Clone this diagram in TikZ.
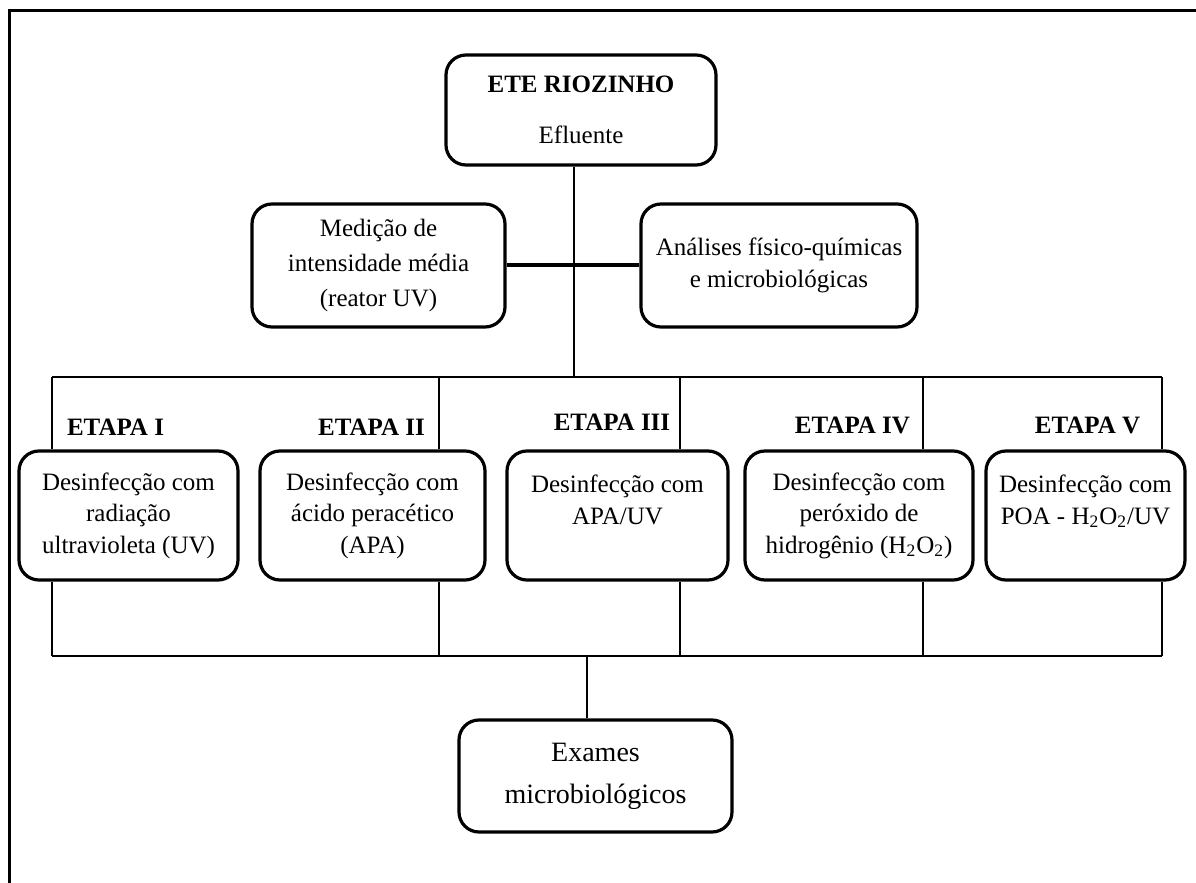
\documentclass[tikz,border=0pt]{standalone}
\usepackage{fontspec}
\setmainfont{Liberation Serif}
\usepackage{tikz}
\usetikzlibrary{positioning,calc}

\begin{document}
\begin{tikzpicture}[x=0.5pt,y=-0.5pt,font=\fontsize{12.5}{15.75}\selectfont,
  box/.style={draw,line width=1.6pt,rounded corners=10pt,align=center,inner sep=2pt},
  link/.style={line width=1.4pt}]
  \useasboundingbox (0,0) rectangle (1196,883);
  % Frame
  \draw[line width=1.5pt] (1196,11) -- (9,11) -- (9,883);
  % Top part
  \node[box,minimum width=135pt,minimum height=55pt] (ete) at (581,110) {\textbf{ETE RIOZINHO}\\[10pt]Efluente};
  \node[box,minimum width=126.5pt,minimum height=61.5pt] (med) at (378.5,265.5) {Medição de\\[1.75pt]intensidade média\\[1.75pt](reator UV)};
  \node[box,minimum width=138pt,minimum height=61.5pt] (ana) at (779,265.5) {Análises físico-químicas\\e microbiológicas};
  \coordinate (trunk) at (574,377);
  \draw[link] (ete.south -| trunk) -- (trunk);
  \draw[line width=2pt] (med.east) -- (ana.west);
  % Etapas
  \node[box,minimum width=109.5pt,minimum height=64.5pt] (e1) at (128.5,515.5) {Desinfecção com\\radiação\\ultravioleta (UV)};
  \node[box,minimum width=112.5pt,minimum height=64.5pt] (e2) at (372.5,515.5) {Desinfecção com\\ácido peracético\\(APA)};
  \node[box,minimum width=110.5pt,minimum height=64.5pt] (e3) at (617.5,515.5) {Desinfecção com\\APA/UV\\~};
  \node[box,minimum width=114pt,minimum height=64.5pt] (e4) at (859,515.5) {Desinfecção com\\peróxido de\\hidrogênio (H\textsubscript{2}O\textsubscript{2})};
  \node[box,minimum width=99.5pt,minimum height=64.5pt] (e5) at (1085.5,515.5) {Desinfecção com\\POA - H\textsubscript{2}O\textsubscript{2}/UV\\~};
  \foreach \i/\x/\y/\lab in {1/115.5/427/I,2/371.5/427/II,3/612/422/III,4/852.5/425/IV,5/1087.5/425/V}
    \node[font=\fontsize{12.5}{14}\selectfont\bfseries] (lab\i) at (\x,\y) {ETAPA \lab};
  % Buses
  \foreach \i/\x in {1/52,2/439,3/680,4/923,5/1162}{
    \coordinate (t\i) at (\x,377);
    \coordinate (b\i) at (\x,656);
    \draw[link] (t\i) -- (t\i |- e\i.north);
    \draw[link] (b\i |- e\i.south) -- (b\i);
  }
  \draw[link] (t1) -- (t5);
  \draw[link] (b1) -- (b5);
  % Exames
  \node[box,font=\fontsize{14}{21}\selectfont,minimum width=136.5pt,minimum height=56pt] (exa) at (595.5,776) {Exames\\microbiológicos};
  \coordinate (bx) at (587,656);
  \draw[link] (bx) -- (bx |- exa.north);
\end{tikzpicture}
\end{document}
